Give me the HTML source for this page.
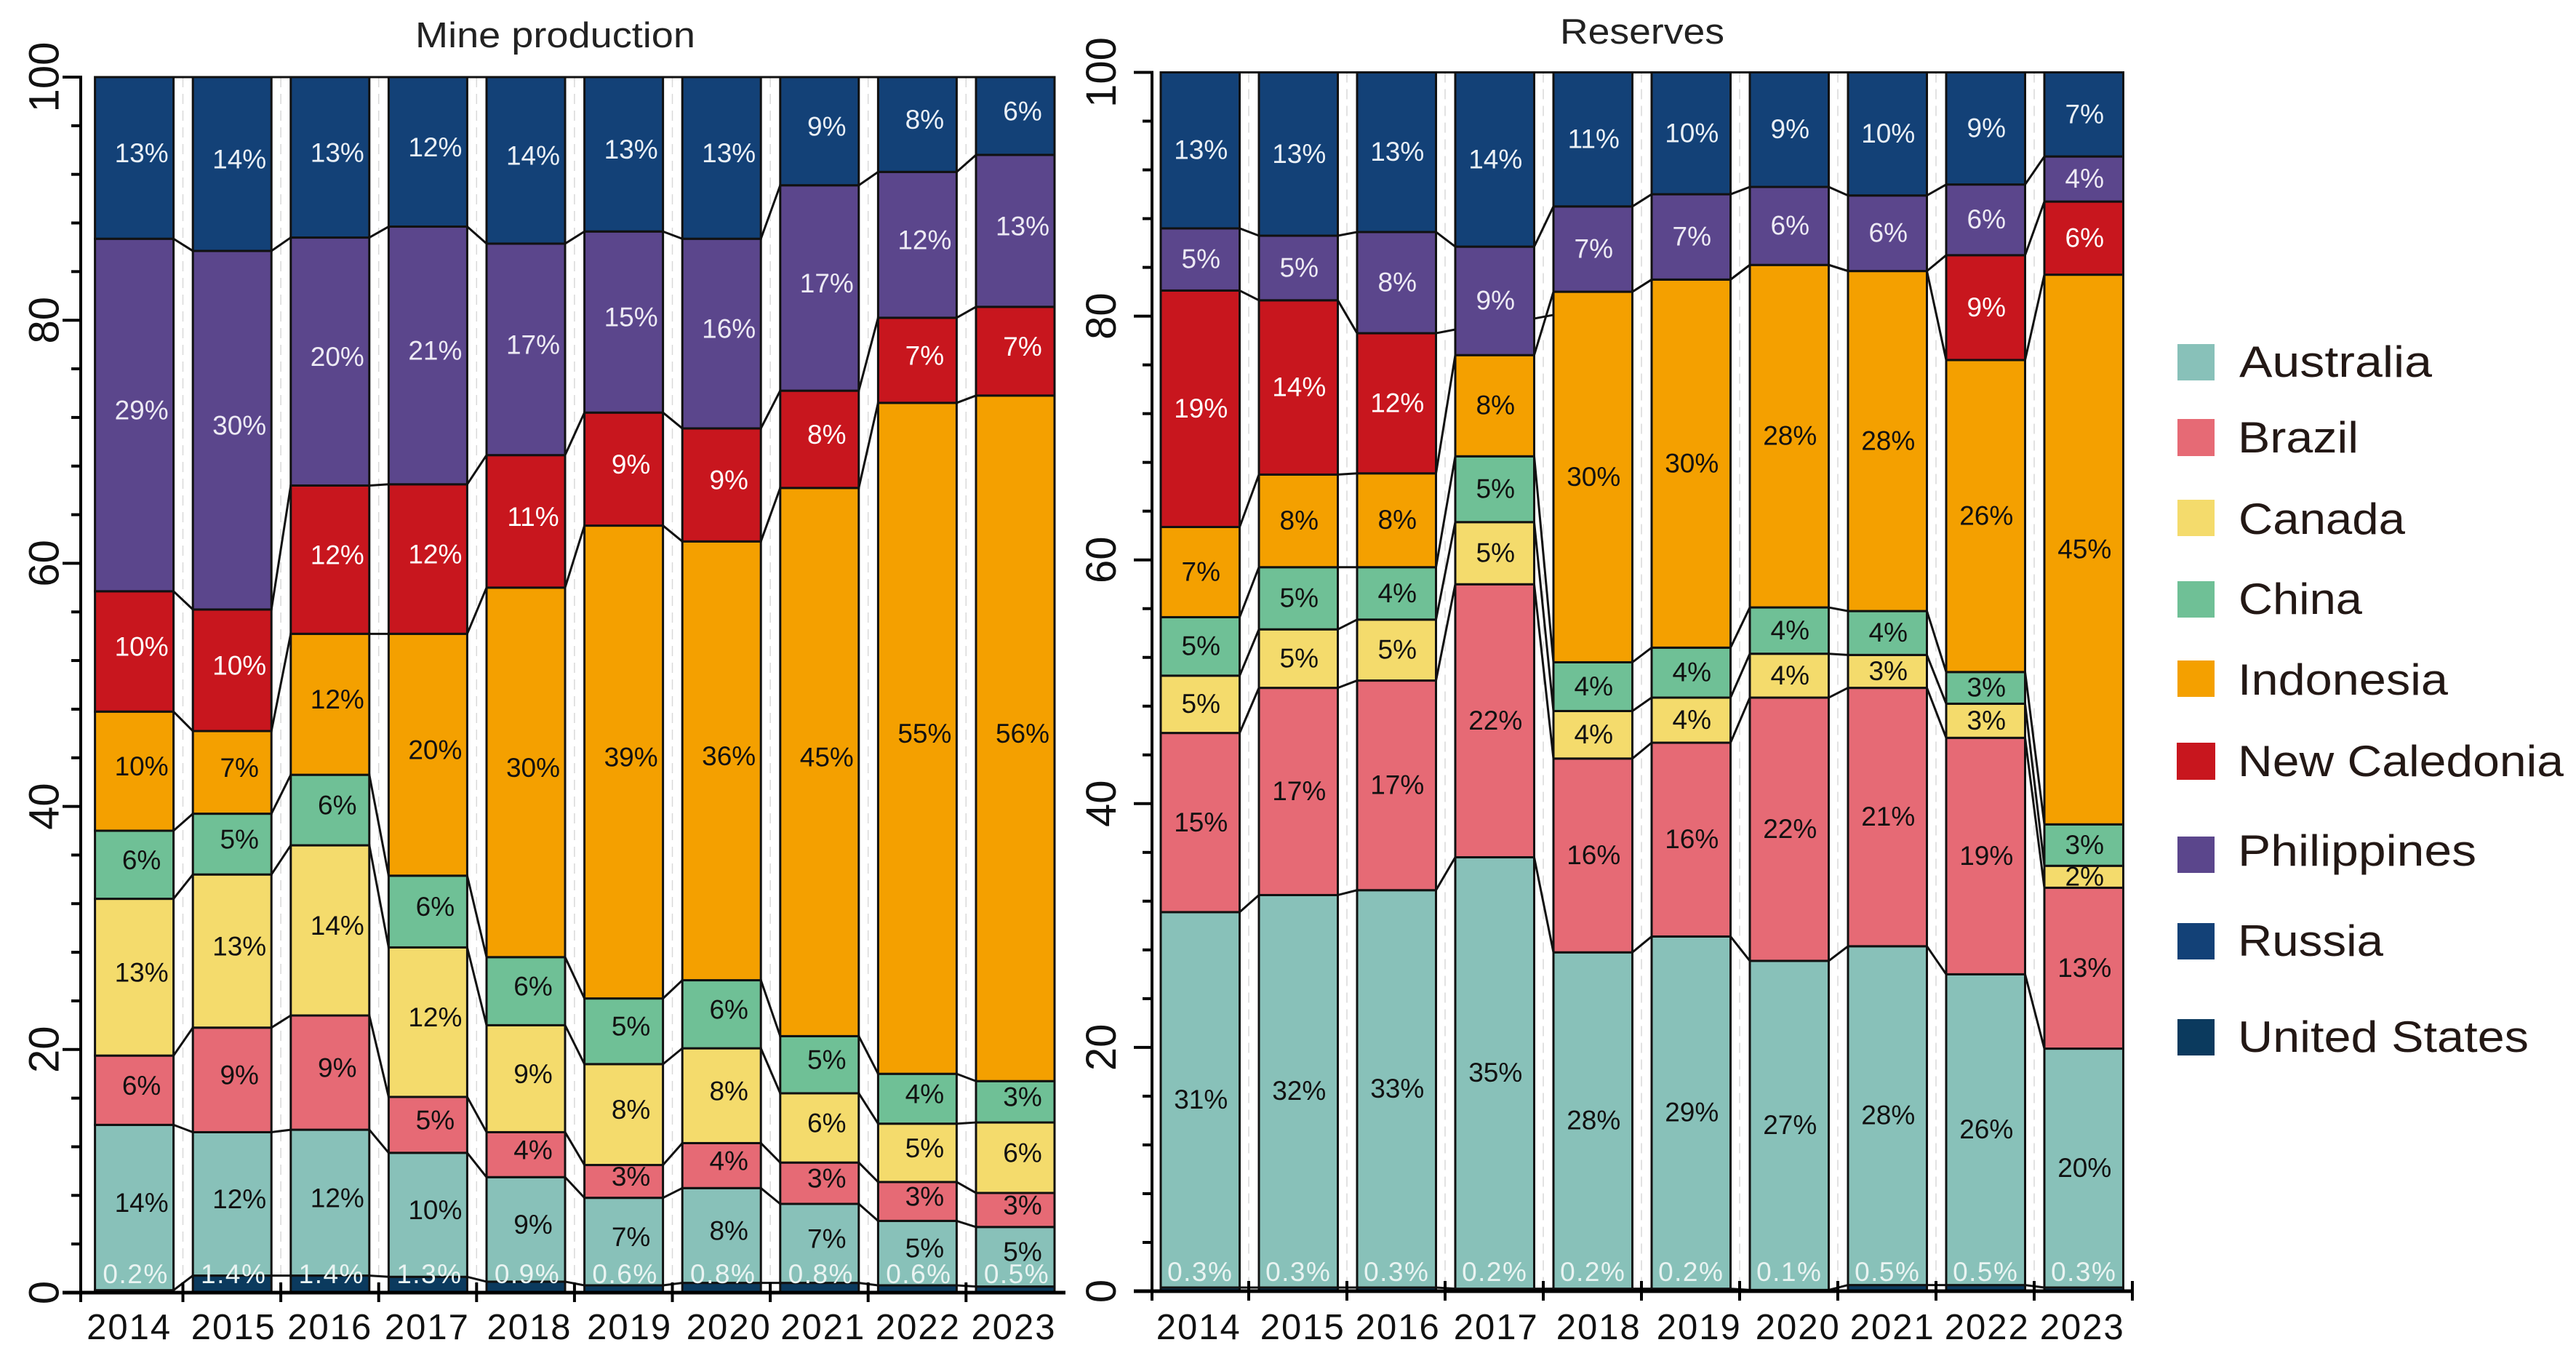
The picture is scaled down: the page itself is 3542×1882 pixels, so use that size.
<!DOCTYPE html>
<html lang="en">
<head>
<meta charset="utf-8">
<title>Nickel mine production and reserves share by country</title>
<style>
html,body{margin:0;padding:0;background:#fff;}
svg{display:block;font-family:"Liberation Sans",sans-serif;}
</style>
</head>
<body>
<svg id="chart" xmlns="http://www.w3.org/2000/svg" width="3542" height="1882" viewBox="0 0 3542 1882">
  <rect x="0" y="0" width="3542" height="1882" fill="#ffffff"/>
  <text x="571" y="65" font-size="49" fill="#222" textLength="385" lengthAdjust="spacingAndGlyphs">Mine production</text>
  <text x="2145" y="60" font-size="49" fill="#222" textLength="226" lengthAdjust="spacingAndGlyphs">Reserves</text>
  <g font-size="60" fill="#231815">
    <g><rect x="2994" y="473" width="51" height="50" fill="#88C1B9"/><text x="3079" y="518" textLength="265" lengthAdjust="spacingAndGlyphs">Australia</text></g>
    <g><rect x="2994" y="576" width="51" height="51" fill="#E66A75"/><text x="3077" y="622" textLength="166" lengthAdjust="spacingAndGlyphs">Brazil</text></g>
    <g><rect x="2994" y="687" width="51" height="50" fill="#F4DB6C"/><text x="3078" y="734" textLength="229" lengthAdjust="spacingAndGlyphs">Canada</text></g>
    <g><rect x="2994" y="799" width="51" height="50" fill="#6FC096"/><text x="3078" y="844" textLength="170" lengthAdjust="spacingAndGlyphs">China</text></g>
    <g><rect x="2994" y="908" width="51" height="50" fill="#F4A000"/><text x="3077" y="955" textLength="289" lengthAdjust="spacingAndGlyphs">Indonesia</text></g>
    <g><rect x="2993" y="1021" width="53" height="51" fill="#C8161E"/><text x="3077" y="1067" textLength="448" lengthAdjust="spacingAndGlyphs">New Caledonia</text></g>
    <g><rect x="2994" y="1150" width="51" height="50" fill="#5B468C"/><text x="3077" y="1190" textLength="328" lengthAdjust="spacingAndGlyphs">Philippines</text></g>
    <g><rect x="2994" y="1269" width="51" height="50" fill="#134177"/><text x="3077" y="1314" textLength="200" lengthAdjust="spacingAndGlyphs">Russia</text></g>
    <g><rect x="2994" y="1401" width="51" height="50" fill="#0B3A5E"/><text x="3077" y="1446" textLength="400" lengthAdjust="spacingAndGlyphs">United States</text></g>
  </g>
</svg>
<script>
const years = ['2014','2015','2016','2017','2018','2019','2020','2021','2022','2023'];
const yTickLabels = ['0','20','40','60','80','100'];

const mineUnitedStates = [0.2,1.4,1.4,1.3,0.9,0.6,0.8,0.8,0.6,0.5];
const mineAustralia    = [13.6,11.8,12.0,10.2,8.6,7.2,7.8,6.5,5.3,4.9];
const mineBrazil       = [5.7,8.6,9.4,4.6,3.7,2.7,3.7,3.4,3.2,2.8];
const mineCanada       = [12.9,12.6,14.0,12.3,8.8,8.3,7.8,5.7,4.8,5.8];
const mineChina        = [5.6,5.0,5.8,5.9,5.6,5.4,5.6,4.7,4.1,3.4];
const mineIndonesia    = [9.8,6.8,11.6,19.9,30.4,38.9,36.1,45.1,55.2,56.4];
const mineNewCaledonia = [9.9,10.0,12.2,12.3,10.9,9.3,9.3,8.0,7.0,7.3];
const minePhilippines  = [29.0,29.5,20.4,21.2,17.4,14.9,15.6,16.9,12.0,12.5];
const mineRussia       = [13.3,14.3,13.2,12.3,13.7,12.7,13.3,8.9,7.8,6.4];

const resUnitedStates = [0.3,0.3,0.3,0.2,0.2,0.2,0.1,0.5,0.5,0.3];
const resAustralia    = [30.8,32.2,32.6,35.4,27.6,28.9,27.0,27.8,25.5,19.6];
const resBrazil       = [14.7,17.0,17.2,22.4,15.9,15.9,21.6,21.2,19.4,13.2];
const resCanada       = [4.7,4.8,5.0,5.1,3.9,3.7,3.6,2.7,2.8,1.8];
const resChina        = [4.8,5.1,4.3,5.4,4.0,4.1,3.8,3.6,2.6,3.4];
const resIndonesia    = [7.4,7.6,7.7,8.3,30.4,30.2,28.1,27.9,25.6,45.1];
const resNewCaledonia = [19.4,14.3,11.5,0,0,0,0,0,8.6,6.0];
const resPhilippines  = [5.1,5.3,8.3,8.9,7.0,7.0,6.4,6.2,5.8,3.7];
const resRussia       = [12.8,13.4,13.1,14.3,11.0,10.0,9.4,10.1,9.2,6.9];
const resNewCaledoniaLinkStart = [null,null,78.6,79.8,null,null,null,null,null,null];
const resNewCaledoniaLinkEnd   = [null,null,78.9,80.1,null,null,null,null,null,null];

const seriesKeys = ['united-states','australia','brazil','canada','china','indonesia','new-caledonia','philippines','russia'];
const seriesFills = ['#0B3A5E','#88C1B9','#E66A75','#F4DB6C','#6FC096','#F4A000','#C8161E','#5B468C','#134177'];
const seriesTextFills = ['#EAF4F2','#111111','#111111','#111111','#111111','#111111','#ffffff','#EDEAF4','#EAF0F6'];

const svgNS = 'http://www.w3.org/2000/svg';
const root = document.getElementById('chart');

function mk(tag, parent, attrs) {
  const el = document.createElementNS(svgNS, tag);
  for (const k in attrs) el.setAttribute(k, attrs[k]);
  parent.appendChild(el);
  return el;
}

function drawPanel(p) {
  const yScale = v => p.y0 - (v / 100) * (p.y0 - p.y100);
  const xBar = i => p.barStart + i * p.step;
  const xTick = i => p.tickStart + i * p.step;

  const g = mk('g', root, {});
  
  

  // dashed guides in the gaps
  for (let i = 0; i < years.length - 1; i++) {
    const guide = mk('line', g, {x1: xTick(i), x2: xTick(i), y1: p.y100, y2: p.y0, stroke: '#d9d9d9', 'stroke-width': 1.5, 'stroke-dasharray': '14 9'});
    
    
  }

  // cumulative tops
  const tops = p.series.map(() => []);
  years.forEach((_, i) => {
    let sum = 0;
    p.series.forEach((s, k) => { sum += s[i]; tops[k][i] = sum; });
  });

  // connectors between neighbouring bars
  p.series.forEach((s, k) => {
    for (let i = 0; i < years.length - 1; i++) {
      let a = tops[k][i];
      let b = tops[k][i + 1];
      if (k === 6 && p.linkStart && p.linkStart[i] !== null) {
        a = p.linkStart[i];
        b = p.linkEnd[i];
      }
      const link = mk('line', g, {x1: xBar(i) + p.barW, y1: yScale(a), x2: xBar(i + 1), y2: yScale(b), stroke: '#111', 'stroke-width': 3});
      
      
    }
  });

  // bar segments
  p.series.forEach((s, k) => {
    years.forEach((year, i) => {
      if (s[i] <= 0) return;
      const top = yScale(tops[k][i]);
      const bottom = yScale(tops[k][i] - s[i]);
      const seg = mk('rect', g, {x: xBar(i), y: top, width: p.barW, height: bottom - top, fill: seriesFills[k], stroke: '#111', 'stroke-width': 3});
      
      
    });
  });

  // value labels
  p.series.forEach((s, k) => {
    years.forEach((year, i) => {
      if (s[i] <= 0) return;
      const isBase = k === 0;
      const mid = yScale(tops[k][i] - s[i] / 2);
      const label = mk('text', g, {
        x: xBar(i) + p.barW / 2 + (isBase ? p.baseLabelDx : p.labelDx),
        y: isBase ? p.baseLabelY : mid + p.labelDy,
        'text-anchor': 'middle',
        'font-size': 37,
        'letter-spacing': isBase ? 1.5 : 0,
        fill: seriesTextFills[k]
      });
      label.textContent = isBase ? s[i].toFixed(1) + '%' : Math.round(s[i]) + '%';
      
      
    });
  });

  // axes
  const yAxis = mk('line', g, {x1: p.axisX, x2: p.axisX, y1: p.y100 - 2, y2: p.y0 + 13, stroke: '#000', 'stroke-width': 4});
  
  

  const xAxis = mk('line', g, {x1: p.axisX - 25, x2: p.axisEnd, y1: p.y0, y2: p.y0, stroke: '#000', 'stroke-width': 5});
  
  

  const axisFoot = mk('line', g, {x1: p.axisX, x2: p.axisX, y1: p.y0 - 14, y2: p.y0 + 13, stroke: '#000', 'stroke-width': 4});
  
  

  // y ticks every 4 units, labelled every 20
  for (let v = 0; v <= 100; v += 4) {
    const major = v % 20 === 0;
    const tick = mk('line', g, {x1: p.axisX - (major ? 25 : 13), x2: p.axisX, y1: yScale(v), y2: yScale(v), stroke: '#000', 'stroke-width': 4});
    
    
  }
  yTickLabels.forEach(t => {
    const ty = yScale(+t);
    const label = mk('text', g, {transform: 'translate(' + p.yLabelX + ' ' + ty + ') rotate(-90)', 'text-anchor': 'middle', 'font-size': 58, fill: '#111'});
    label.textContent = t;
    
    
  });

  // x ticks and year labels
  for (let i = 0; i < p.tickCount; i++) {
    const tick = mk('line', g, {x1: xTick(i), x2: xTick(i), y1: p.y0 - 14, y2: p.y0 + 13, stroke: '#000', 'stroke-width': 4});
    
    
  }
  years.forEach((year, i) => {
    const label = mk('text', g, {x: xBar(i) + p.barW / 2 + p.yearNudge[i], y: 1841, 'text-anchor': 'middle', 'font-size': 49, 'letter-spacing': 2, fill: '#111'});
    label.textContent = year;
    
    
  });
}

drawPanel({
  key: 'mine-production',
  series: [mineUnitedStates, mineAustralia, mineBrazil, mineCanada, mineChina, mineIndonesia, mineNewCaledonia, minePhilippines, mineRussia],
  barStart: 130.6, step: 134.6, barW: 108, tickStart: 251.5, tickCount: 9,
  y0: 1777, y100: 106, axisX: 111, axisEnd: 1465, yLabelX: 80.5,
  labelDx: 10, labelDy: 6, baseLabelDx: 2, baseLabelY: 1764,
  yearNudge: [-7,2,0,-1,5,8,10,5,1,-2]
});
drawPanel({
  key: 'reserves',
  series: [resUnitedStates, resAustralia, resBrazil, resCanada, resChina, resIndonesia, resNewCaledonia, resPhilippines, resRussia],
  linkStart: resNewCaledoniaLinkStart, linkEnd: resNewCaledoniaLinkEnd,
  barStart: 1596, step: 135, barW: 108.5, tickStart: 1717, tickCount: 10,
  y0: 1775, y100: 99.5, axisX: 1584, axisEnd: 2932, yLabelX: 1534,
  labelDx: 1, labelDy: 12, baseLabelDx: 0, baseLabelY: 1761,
  yearNudge: [-2,6,2,2,8,11,12,7,2,-2]
});
</script>
</body>
</html>
